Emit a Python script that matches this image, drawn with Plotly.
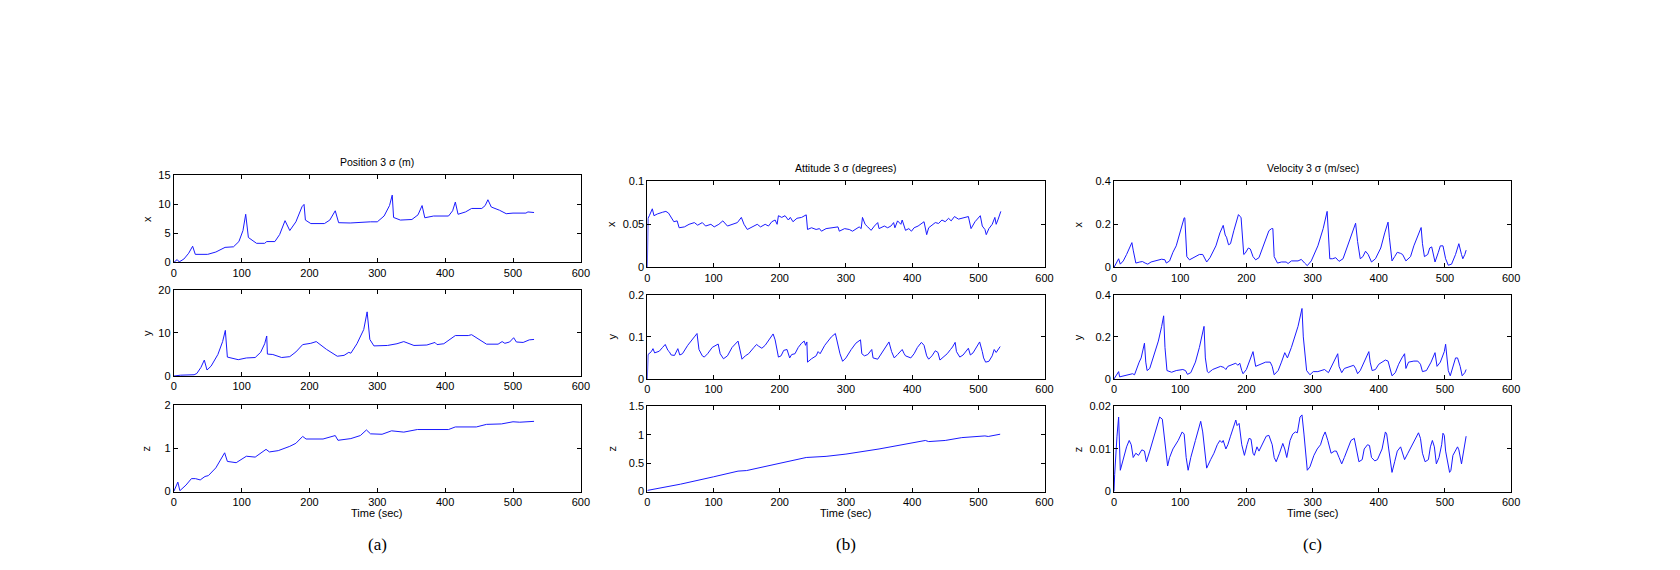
import plotly.graph_objects as go

W, H = 1680, 570

# ---------------- data ----------------
# Position 3 sigma (m)
pos_x_t = [0, 5, 8, 15, 22, 27.8, 31.7, 40, 50, 62, 75.6, 88, 96, 102, 106, 110, 116, 122, 134, 137, 149,
           156, 164, 171, 180, 189, 192, 194, 202, 222, 230, 238, 243, 260, 290, 300, 310, 318, 322, 324,
           334, 351, 360, 366, 370, 383, 405, 411, 415, 419, 430, 439, 454, 459, 463, 468, 480, 490, 500,
           519, 522, 531]
pos_x = [0, 0.5, 0.1, 0.6, 1.6, 2.8, 1.4, 1.35, 1.4, 1.8, 2.6, 2.7, 3.6, 5.5, 8.3, 4.3, 3.8, 3.3, 3.3, 3.6, 3.6,
         4.8, 7.2, 5.5, 7.0, 9.6, 10.0, 7.3, 6.7, 6.7, 7.3, 8.9, 6.85, 6.8, 7.0, 7.0, 8.0, 9.8, 11.6, 7.75,
         7.3, 7.4, 8.2, 9.8, 7.7, 8.0, 8.0, 8.9, 10.4, 8.3, 8.7, 9.3, 9.3, 9.8, 10.8, 9.55, 9.0, 8.4, 8.5,
         8.5, 8.7, 8.6]
pos_y_t = [0, 10, 30, 34, 40, 45, 49, 55, 65, 72, 76, 79, 95, 107, 120, 128, 134, 137, 138, 146, 159, 171,
           180, 190, 202, 210, 225, 241, 251, 258, 261, 270, 280, 285, 289, 295, 315, 329, 339, 354, 373,
           385, 388, 398, 415, 434, 439, 461, 478, 484, 488, 495, 501, 505, 515, 524, 531]
pos_y = [0, 0.2, 0.3, 0.6, 2.0, 3.7, 1.4, 2.3, 5.0, 8.0, 10.6, 4.4, 3.8, 4.2, 4.3, 5.5, 7.5, 9.3, 5.1, 5.0,
         4.3, 4.5, 5.6, 7.3, 7.6, 8.0, 6.2, 4.6, 4.8, 5.5, 5.3, 7.5, 10.8, 14.9, 8.5, 7.0, 7.1, 7.5, 8.0,
         7.1, 7.2, 7.8, 7.3, 7.5, 9.4, 9.4, 9.6, 7.4, 7.4, 8.0, 7.6, 7.9, 8.9, 7.9, 7.8, 8.4, 8.5]
pos_z_t = [0, 6, 9, 18, 26, 32, 39, 46, 51, 62, 75, 79, 92, 107, 120, 136, 141, 154, 171, 180, 190, 195,
           220, 238, 242, 261, 275, 284, 290, 307, 321, 339, 359, 388, 405, 415, 446, 461, 483, 500, 510,
           531]
pos_z = [0, 0.22, 0.02, 0.15, 0.3, 0.3, 0.27, 0.35, 0.37, 0.55, 0.9, 0.7, 0.67, 0.82, 0.8, 0.98, 0.92, 0.95,
         1.05, 1.12, 1.28, 1.22, 1.22, 1.3, 1.19, 1.23, 1.3, 1.43, 1.34, 1.33, 1.41, 1.38, 1.44, 1.44, 1.44,
         1.5, 1.5, 1.56, 1.57, 1.62, 1.61, 1.63]

# Attitude 3 sigma (degrees)
att_x_t = [0, 1, 3, 7.5, 10, 15, 23, 28, 32, 36, 40, 45, 48, 56, 63, 71, 76, 83, 88, 96, 101, 108, 114, 121,
           128, 136, 142, 146, 151, 158, 166, 171, 178, 183, 188, 193, 196, 198, 203, 208, 213, 216, 220,
           226, 233, 240, 242, 248, 255, 260, 263, 270, 280, 288, 290, 298, 305, 310, 320, 323, 325, 329,
           333, 338, 343, 348, 350, 358, 363, 368, 372, 374, 378, 383, 385, 390, 395, 399, 403, 409, 418,
           422, 425, 430, 435, 440, 445, 450, 455, 459, 464, 470, 477, 485, 489, 495, 503, 506, 510, 512,
           516, 521, 525, 527, 530, 534]
att_x = [0, 0.057, 0.06, 0.068, 0.06, 0.062, 0.064, 0.065, 0.063, 0.058, 0.053, 0.054, 0.046, 0.047, 0.05,
         0.052, 0.049, 0.052, 0.048, 0.05, 0.047, 0.05, 0.054, 0.048, 0.05, 0.052, 0.058, 0.05, 0.044, 0.047,
         0.05, 0.047, 0.05, 0.048, 0.053, 0.055, 0.05, 0.06, 0.058, 0.06, 0.055, 0.058, 0.053, 0.057, 0.058,
         0.061, 0.044, 0.046, 0.044, 0.045, 0.042, 0.045, 0.046, 0.047, 0.042, 0.045, 0.044, 0.042, 0.047,
         0.045, 0.058, 0.05, 0.047, 0.043, 0.048, 0.052, 0.045, 0.048, 0.046, 0.048, 0.052, 0.046, 0.054,
         0.05, 0.055, 0.043, 0.045, 0.042, 0.046, 0.048, 0.053, 0.038, 0.046, 0.049, 0.052, 0.051, 0.055,
         0.053, 0.057, 0.054, 0.059, 0.056, 0.057, 0.059, 0.045, 0.053, 0.06, 0.048, 0.044, 0.038, 0.045,
         0.05, 0.058, 0.05, 0.056, 0.065]
att_y_t = [0, 1, 6, 8.5, 11, 18, 23, 27, 31, 33, 36, 41, 46, 49, 53, 61, 71, 75, 78, 83, 86, 91, 98, 107,
           110, 115, 121, 128, 137, 141, 143, 148, 153, 161, 165, 168, 173, 178, 186, 190, 193, 196, 198,
           202, 206, 211, 215, 218, 223, 228, 233, 237, 239, 241, 242, 248, 255, 258, 261, 268, 278, 284,
           288, 291, 295, 300, 308, 315, 322, 324, 328, 333, 339, 341, 348, 353, 360, 365, 369, 373, 378,
           385, 388, 390, 398, 403, 408, 414, 418, 422, 425, 430, 435, 439, 442, 448, 453, 458, 461, 465,
           467, 472, 477, 485, 488, 492, 499, 502, 506, 508, 511, 516, 521, 524, 527, 530, 533]
att_y = [0, 0.058, 0.065, 0.072, 0.062, 0.066, 0.075, 0.082, 0.068, 0.065, 0.057, 0.056, 0.072, 0.057, 0.06,
         0.08, 0.1, 0.108, 0.07, 0.055, 0.052, 0.06, 0.075, 0.083, 0.06, 0.048, 0.055, 0.075, 0.09, 0.055,
         0.047, 0.055, 0.06, 0.075, 0.082, 0.078, 0.073, 0.08, 0.1, 0.107, 0.093, 0.07, 0.052, 0.055, 0.068,
         0.07, 0.05, 0.058, 0.06, 0.075, 0.085, 0.09, 0.08, 0.088, 0.04, 0.048, 0.055, 0.065, 0.06, 0.08,
         0.1, 0.108, 0.08, 0.06, 0.042, 0.05, 0.07, 0.085, 0.093, 0.06, 0.055, 0.058, 0.07, 0.05, 0.047,
         0.06, 0.078, 0.088, 0.065, 0.05, 0.058, 0.07, 0.06, 0.055, 0.05, 0.06, 0.075, 0.087, 0.08, 0.055,
         0.047, 0.055, 0.067, 0.063, 0.045, 0.052, 0.06, 0.07, 0.076, 0.087, 0.065, 0.052, 0.057, 0.073,
         0.057, 0.062, 0.08, 0.088, 0.065, 0.05, 0.04, 0.042, 0.055, 0.07, 0.063, 0.07, 0.077]
att_z_t = [0, 50, 100, 137, 150, 200, 240, 270, 300, 350, 400, 420, 425, 450, 475, 500, 510, 515, 533]
att_z = [0.02, 0.13, 0.26, 0.36, 0.37, 0.5, 0.6, 0.62, 0.66, 0.75, 0.85, 0.9, 0.88, 0.9, 0.95, 0.97, 0.98,
         0.97, 1.01]

# Velocity 3 sigma (m/sec)
vel_x_t = [0, 7, 9.5, 14, 19, 23, 27, 29, 33, 39, 43, 47, 51, 56, 64, 72, 77, 79, 84, 89, 94, 99, 106, 107,
           110, 114, 121, 129, 134, 140, 145, 149, 154, 160, 165, 168, 170, 173, 176, 181, 187, 188, 191,
           192, 196, 198, 203, 206, 210, 214, 219, 226, 234, 238, 240, 242, 247, 253, 260, 263, 268, 278,
           283, 288, 292, 298, 308, 316, 322, 326, 330, 335, 340, 346, 353, 361, 365, 368, 372, 376, 380,
           384, 389, 395, 403, 409, 414, 416, 420, 424, 428, 433, 436, 441, 448, 453, 457, 464, 466, 469,
           474, 477, 480, 483, 485, 490, 493, 497, 501, 505, 510, 516, 521, 525, 527, 530, 532]
vel_x = [0, 0.04, 0.015, 0.03, 0.06, 0.09, 0.115, 0.08, 0.02, 0.025, 0.027, 0.02, 0.015, 0.025, 0.032, 0.038,
         0.035, 0.02, 0.03, 0.07, 0.1, 0.16, 0.23, 0.23, 0.05, 0.035, 0.045, 0.06, 0.06, 0.025, 0.045, 0.07,
         0.1, 0.16, 0.195, 0.15, 0.14, 0.105, 0.11, 0.17, 0.24, 0.245, 0.235, 0.23, 0.06, 0.065, 0.09, 0.085,
         0.05, 0.035, 0.045, 0.1, 0.17, 0.18, 0.18, 0.05, 0.02, 0.025, 0.025, 0.018, 0.03, 0.03, 0.037, 0.02,
         0.008, 0.03, 0.1, 0.18, 0.26, 0.04, 0.04, 0.045, 0.028, 0.04, 0.1, 0.17, 0.205, 0.12, 0.04, 0.05,
         0.075, 0.06, 0.025, 0.04, 0.09, 0.16, 0.21, 0.14, 0.03, 0.05, 0.07, 0.065, 0.06, 0.03, 0.05, 0.1,
         0.13, 0.185, 0.11, 0.05, 0.06, 0.09, 0.095, 0.055, 0.025, 0.07, 0.1, 0.1, 0.04, 0.01, 0.015, 0.06,
         0.11, 0.06, 0.04, 0.06, 0.08]
vel_y_t = [0, 4.5, 7, 8.5, 14, 22, 28, 31, 34, 38, 41, 46, 48, 50, 54, 59, 67, 72, 75, 77, 80, 87, 94, 104,
           108, 111, 116, 123, 129, 136, 138, 141, 143, 149, 156, 161, 166, 169, 172, 179, 184, 187, 190,
           193, 195, 200, 206, 210, 214, 221, 229, 236, 239, 242, 248, 253, 258, 262, 268, 278, 284, 286,
           291, 296, 301, 308, 318, 324, 329, 338, 340, 344, 348, 356, 362, 365, 368, 372, 378, 385, 387,
           390, 395, 400, 405, 410, 414, 418, 420, 425, 430, 435, 439, 441, 445, 453, 459, 463, 466, 472,
           479, 485, 488, 493, 499, 501, 503, 505, 508, 512, 516, 519, 523, 526, 530, 532]
vel_y = [0, 0.02, 0.035, 0.01, 0.015, 0.02, 0.025, 0.02, 0.05, 0.08, 0.1, 0.17, 0.08, 0.04, 0.05, 0.1, 0.18,
         0.25, 0.3, 0.15, 0.04, 0.032, 0.04, 0.045, 0.04, 0.022, 0.03, 0.08, 0.15, 0.25, 0.1, 0.035, 0.03,
         0.045, 0.055, 0.06, 0.055, 0.045, 0.06, 0.07, 0.075, 0.065, 0.075, 0.04, 0.025, 0.045, 0.1, 0.13,
         0.06, 0.07, 0.08, 0.08, 0.06, 0.02, 0.04, 0.08, 0.125, 0.1, 0.15, 0.25, 0.335, 0.2, 0.04, 0.02, 0.035,
         0.035, 0.045, 0.03, 0.06, 0.12, 0.06, 0.03, 0.05, 0.06, 0.065, 0.05, 0.025, 0.04, 0.08, 0.13, 0.08,
         0.04, 0.045, 0.07, 0.08, 0.09, 0.085, 0.04, 0.015, 0.03, 0.07, 0.1, 0.12, 0.05, 0.08, 0.085, 0.085,
         0.07, 0.035, 0.04, 0.08, 0.125, 0.06, 0.08, 0.13, 0.165, 0.1, 0.04, 0.015, 0.06, 0.1, 0.1, 0.06,
         0.015, 0.03, 0.045]
vel_z_t = [0, 1, 4.5, 7, 9.5, 13, 17, 19, 23, 26, 29, 33, 37, 42, 46, 49, 54, 59, 63, 66, 69, 73, 77, 81, 84,
           89, 97, 103, 106, 109, 112, 116, 123, 129, 131, 134, 137, 140, 146, 151, 156, 160, 163, 165, 169,
           172, 176, 181, 184, 186, 189, 193, 197, 201, 204, 207, 210, 212, 216, 219, 224, 230, 234, 239,
           242, 245, 250, 255, 258, 261, 266, 270, 274, 277, 281, 284, 287, 290, 292, 296, 302, 307, 312,
           316, 319, 323, 325, 328, 333, 336, 340, 344, 348, 353, 358, 363, 366, 370, 375, 378, 383, 386,
           389, 394, 398, 402, 405, 410, 412, 415, 418, 420, 424, 428, 433, 436, 439, 444, 449, 455, 460,
           463, 466, 470, 475, 478, 481, 484, 487, 491, 495, 497, 499, 501, 505, 507, 509, 512, 519, 521,
           525, 527, 530, 532]
vel_z = [0, 0.004, 0.013, 0.0175, 0.005, 0.007, 0.009, 0.0105, 0.012, 0.011, 0.008, 0.009, 0.0085, 0.0098,
         0.0095, 0.007, 0.0095, 0.012, 0.014, 0.0155, 0.0175, 0.017, 0.011, 0.006, 0.008, 0.01, 0.012, 0.014,
         0.0135, 0.008, 0.005, 0.008, 0.012, 0.015, 0.0165, 0.014, 0.009, 0.0055, 0.0075, 0.009, 0.011, 0.012,
         0.0115, 0.012, 0.01, 0.011, 0.013, 0.0155, 0.0168, 0.0155, 0.016, 0.011, 0.0085, 0.011, 0.0125,
         0.0123, 0.009, 0.0085, 0.0105, 0.0095, 0.011, 0.013, 0.0132, 0.011, 0.008, 0.007, 0.009, 0.0113,
         0.01, 0.008, 0.012, 0.0135, 0.014, 0.0138, 0.0175, 0.018, 0.0135, 0.008, 0.005, 0.0058, 0.0085,
         0.01, 0.011, 0.013, 0.014, 0.012, 0.0105, 0.009, 0.0095, 0.0095, 0.008, 0.0065, 0.008, 0.01, 0.012,
         0.0125, 0.01, 0.007, 0.0075, 0.01, 0.011, 0.0108, 0.008, 0.0072, 0.0075, 0.009, 0.01, 0.014, 0.0135,
         0.01, 0.007, 0.0045, 0.007, 0.0095, 0.0105, 0.009, 0.0075, 0.009, 0.0105, 0.012, 0.0138, 0.0125,
         0.009, 0.007, 0.0075, 0.0105, 0.012, 0.0105, 0.0065, 0.008, 0.011, 0.0137, 0.0132, 0.0095, 0.0065,
         0.0045, 0.005, 0.0085, 0.0105, 0.0098, 0.0065, 0.0085, 0.0115, 0.013]

panel_titles = ["Position 3 \u03c3 (m)", "Attitude 3 \u03c3 (degrees)", "Velocity 3 \u03c3 (m/sec)"]
panel_letters = ["(a)", "(b)", "(c)"]
row_labels = ["x", "y", "z"]
x_ticks = [0, 100, 200, 300, 400, 500, 600]
y_ranges = [[0, 15], [0, 20], [0, 2],
            [0, 0.1], [0, 0.2], [0, 1.5],
            [0, 0.4], [0, 0.4], [0, 0.02]]
y_ticks = [[0, 5, 10, 15], [0, 10, 20], [0, 1, 2],
           [0, 0.05, 0.1], [0, 0.1, 0.2], [0, 0.5, 1, 1.5],
           [0, 0.2, 0.4], [0, 0.2, 0.4], [0, 0.01, 0.02]]
y_ticktext = [["0", "5", "10", "15"], ["0", "10", "20"], ["0", "1", "2"],
              ["0", "0.05", "0.1"], ["0", "0.1", "0.2"], ["0", "0.5", "1", "1.5"],
              ["0", "0.2", "0.4"], ["0", "0.2", "0.4"], ["0", "0.01", "0.02"]]

series_t = [pos_x_t, pos_y_t, pos_z_t, att_x_t, att_y_t, att_z_t, vel_x_t, vel_y_t, vel_z_t]
series_v = [pos_x, pos_y, pos_z, att_x, att_y, att_z, vel_x, vel_y, vel_z]

# ---------------- layout geometry (pixels) ----------------
col_px = [(172, 582), (649, 1049), (1119, 1519)]
row_px = [[(173, 262), (290, 378), (408, 496)],
          [(179, 267), (295, 381), (409, 496)],
          [(179, 267), (295, 381), (409, 496)]]
ylab_off = [27, 36, 36]

FONT = "Liberation Sans, Arial, Helvetica, sans-serif"

fig = go.Figure()
layout = dict(
    width=W, height=H, margin=dict(l=0, r=0, t=0, b=0),
    paper_bgcolor="white", plot_bgcolor="white", showlegend=False,
    font=dict(family=FONT, size=11, color="black"),
)
annotations = []

for c in range(3):
    x0, x1 = col_px[c]
    for r in range(3):
        k = c * 3 + r
        idx = k + 1
        xa = "xaxis" if idx == 1 else f"xaxis{idx}"
        ya = "yaxis" if idx == 1 else f"yaxis{idx}"
        xref = "x" if idx == 1 else f"x{idx}"
        yref = "y" if idx == 1 else f"y{idx}"
        top, bot = row_px[c][r]
        fig.add_trace(go.Scatter(x=series_t[k], y=series_v[k], mode="lines",
                                 line=dict(color="#1a1aff", width=1),
                                 xaxis=xref, yaxis=yref, hoverinfo="skip"))
        common = dict(showgrid=False, zeroline=False, showline=True, linecolor="black",
                      linewidth=1, mirror="ticks", ticks="inside", ticklen=4,
                      tickcolor="black", tickfont=dict(family=FONT, size=11, color="black"))
        layout[xa] = dict(domain=[x0 / W, x1 / W], anchor=yref, range=[0, 600],
                          tickvals=x_ticks, ticktext=[str(v) for v in x_ticks], **common)
        layout[ya] = dict(domain=[1 - bot / H, 1 - top / H], anchor=xref, range=y_ranges[k],
                          tickvals=y_ticks[k], ticktext=y_ticktext[k], **common)
        annotations.append(dict(text=row_labels[r], x=(x0 - ylab_off[c]) / W, y=1 - (top + bot) / 2 / H,
                                xref="paper", yref="paper", showarrow=False, textangle=-90,
                                font=dict(family=FONT, size=11, color="black"),
                                xanchor="center", yanchor="middle"))
    top0 = row_px[c][0][0]
    annotations.append(dict(text=panel_titles[c], x=(x0 + x1) / 2 / W, y=1 - (top0 - 14) / H,
                            xref="paper", yref="paper", showarrow=False,
                            font=dict(family=FONT, size=10.5, color="black"),
                            xanchor="center", yanchor="middle"))
    annotations.append(dict(text="Time (sec)", x=(x0 + x1) / 2 / W, y=1 - 518 / H,
                            xref="paper", yref="paper", showarrow=False,
                            font=dict(family=FONT, size=11, color="black"),
                            xanchor="center", yanchor="middle"))
    annotations.append(dict(text=panel_letters[c], x=(x0 + x1) / 2 / W, y=1 - 550 / H,
                            xref="paper", yref="paper", showarrow=False,
                            font=dict(family="Liberation Serif, Times New Roman, serif", size=17,
                                      color="black"),
                            xanchor="center", yanchor="middle"))

layout["annotations"] = annotations
fig.update_layout(**layout)
fig.write_html("out.html")
